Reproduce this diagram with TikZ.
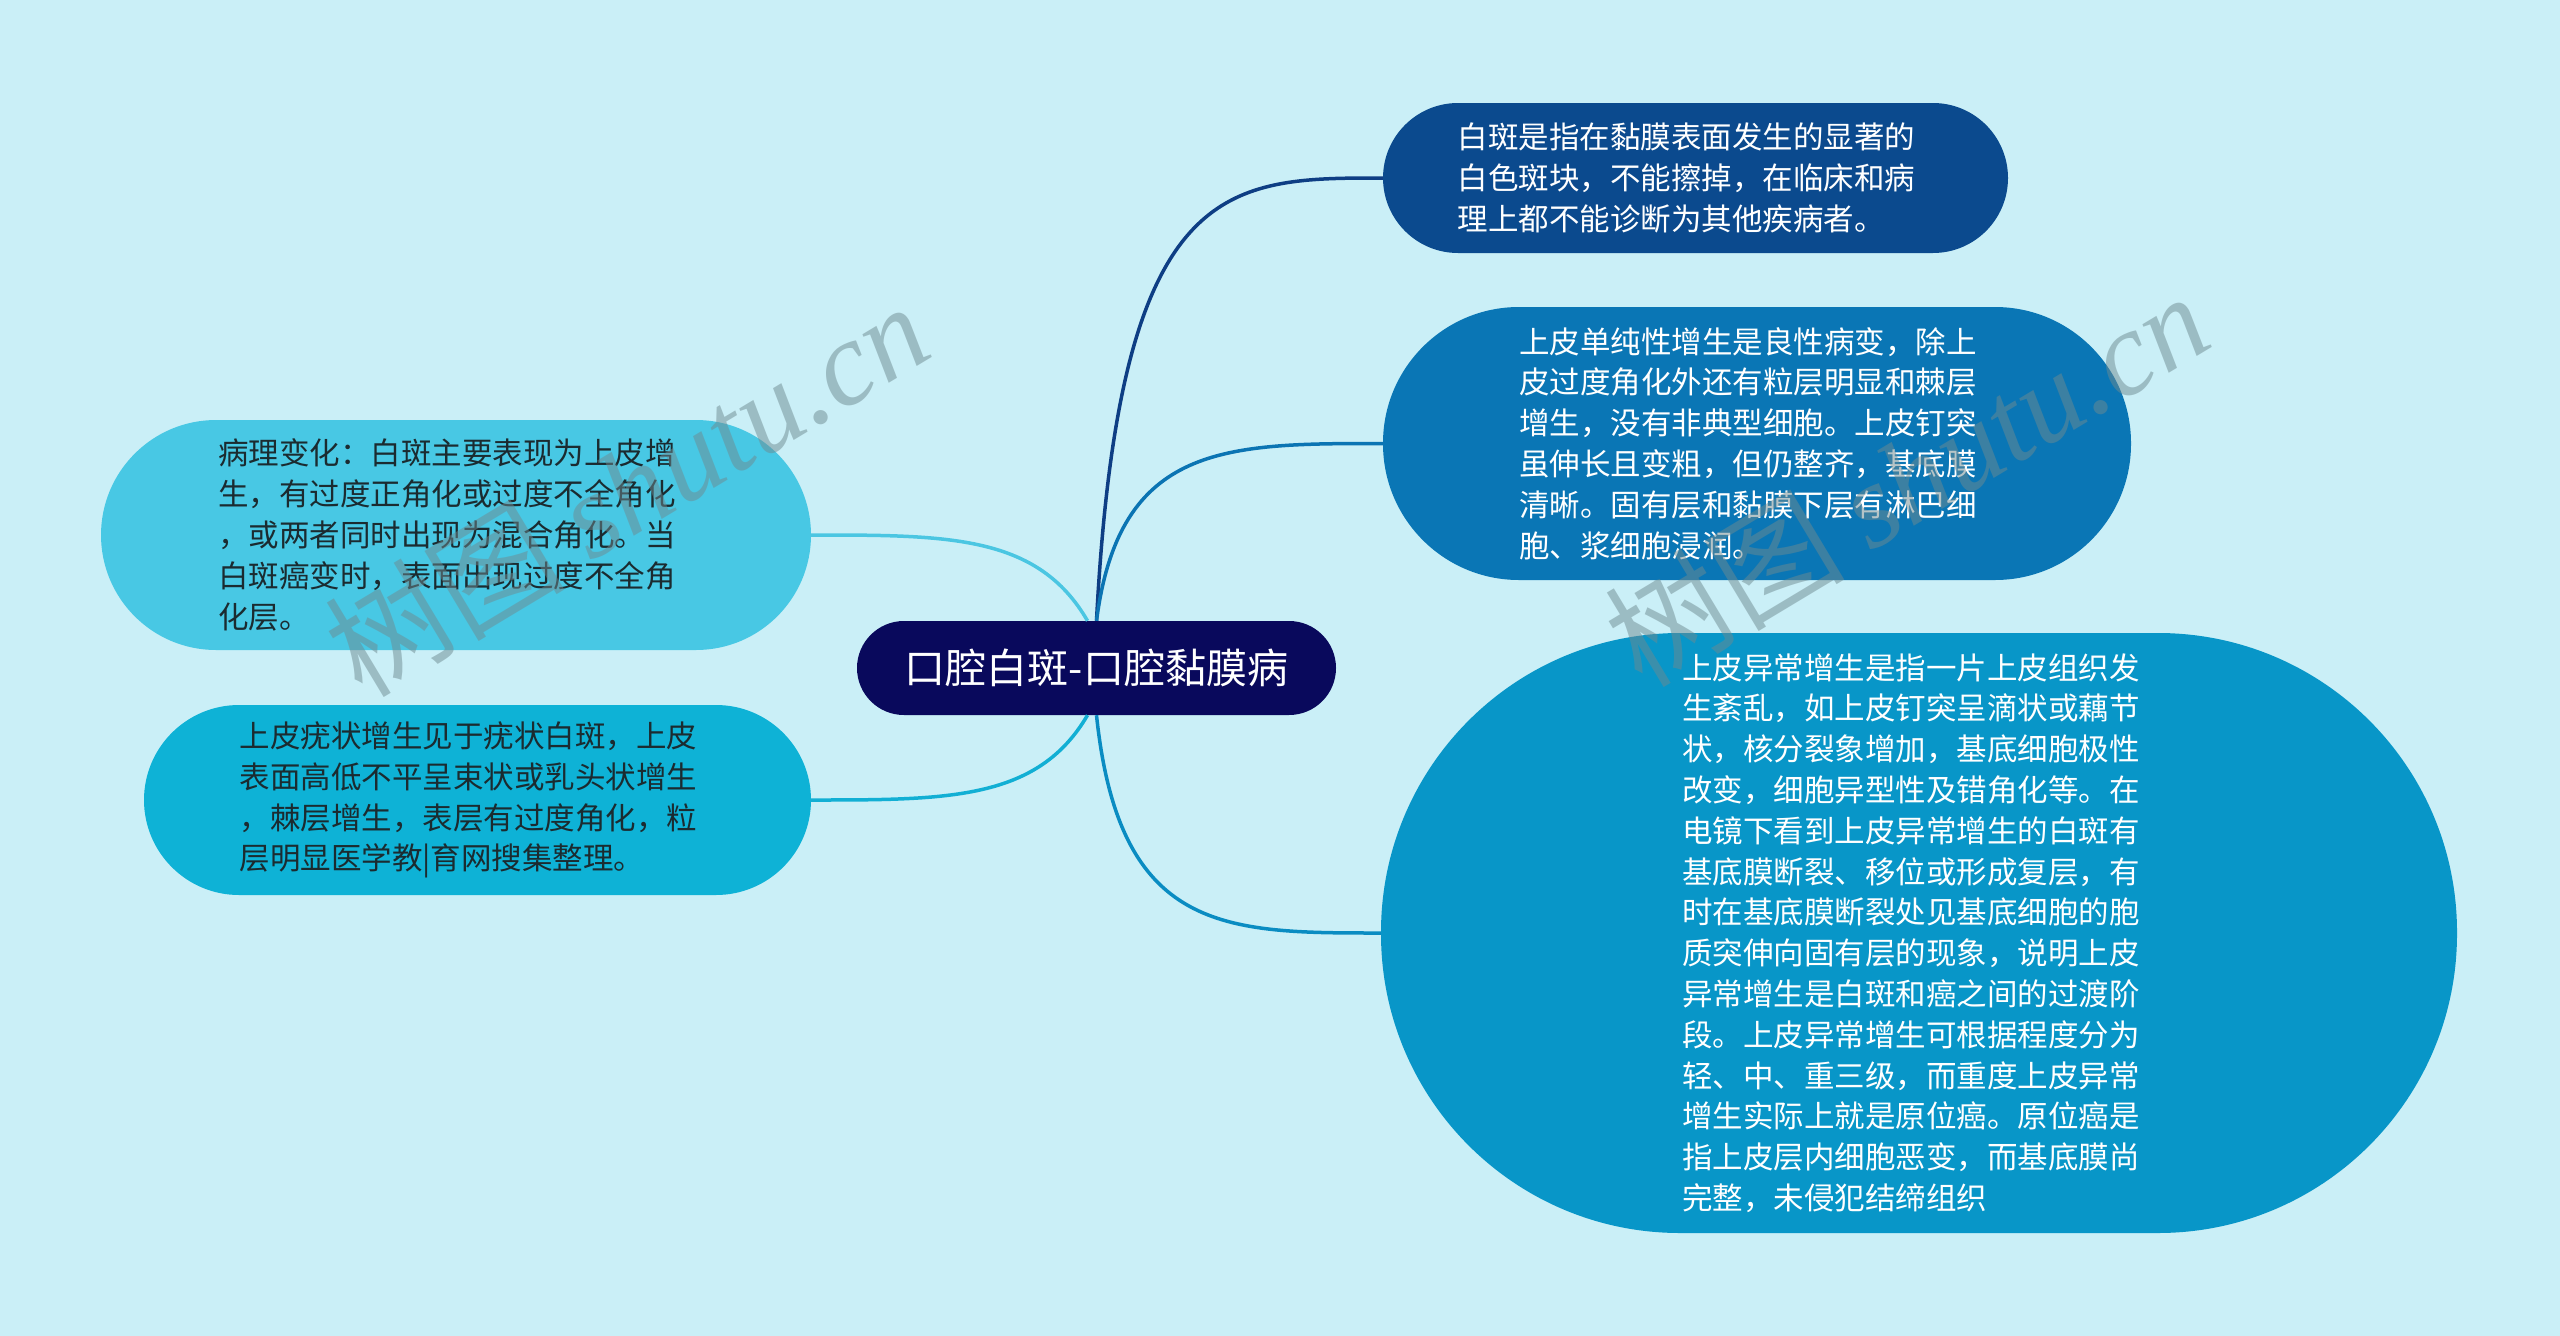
\documentclass[tikz,border=0pt]{standalone}
\usepackage{fontspec}
\setmainfont{Noto Sans CJK SC}
\newfontfamily\wmfont{Liberation Serif}
\usetikzlibrary{calc}
\definecolor{bg}{HTML}{CAEFF7}
\definecolor{cfill}{HTML}{09095C}
\definecolor{n1fill}{HTML}{0B4A8E}
\definecolor{n2fill}{HTML}{0A76B5}
\definecolor{n3fill}{HTML}{0896C8}
\definecolor{l1fill}{HTML}{48C8E4}
\definecolor{l2fill}{HTML}{0EB2D6}
\definecolor{n1line}{HTML}{0E3E84}
\definecolor{n2line}{HTML}{0B74B3}
\definecolor{n3line}{HTML}{0A8CC2}
\definecolor{l1line}{HTML}{4BC6E2}
\definecolor{l2line}{HTML}{12AFD4}
\definecolor{darktext}{HTML}{1B2B30}
\definecolor{wmcol}{HTML}{6E8A90}
\begin{document}
\begin{tikzpicture}[x=1pt,y=-1pt,
  shapebox/.style={rectangle, inner sep=0pt},
  mtext/.style={inner sep=0pt, align=left, font=\fontsize{30.5}{40.8}\selectfont},
  link/.style={line width=3.5pt},
  wmark/.style={rotate=31, anchor=base west, text=wmcol, opacity=0.5, inner sep=0pt, font=\fontsize{120}{120}\selectfont}]
\fill[bg] (0,0) rectangle (2560,1336);
\useasboundingbox (0,0) rectangle (2560,1336);

% centre
\node[shapebox, fill=cfill, text=white, align=center, minimum width=479pt, minimum height=94pt, rounded corners=47pt,
      font=\fontsize{41}{48}\selectfont] (c) at (1096.5,668) {口腔白斑-口腔黏膜病};

% right side
\node[shapebox, fill=n1fill, minimum width=625pt, minimum height=150pt, rounded corners=75pt] (n1) at (1695.5,178) {};
\node[mtext, text=white] (n1t) at ($(n1.center)+(-9,0)$)
 {白斑是指在黏膜表面发生的显著的\\白色斑块，不能擦掉，在临床和病\\理上都不能诊断为其他疾病者。};

\node[shapebox, fill=n2fill, minimum width=748pt, minimum height=273pt, rounded corners=136pt] (n2) at (1757,443.5) {};
\node[mtext, text=white] (n2t) at ($(n2.center)+(-9,0)$)
 {上皮单纯性增生是良性病变，除上\\皮过度角化外还有粒层明显和棘层\\增生，没有非典型细胞。上皮钉突\\虽伸长且变粗，但仍整齐，基底膜\\清晰。固有层和黏膜下层有淋巴细\\胞、浆细胞浸润。};

\node[shapebox, fill=n3fill, minimum width=1076pt, minimum height=600pt, rounded corners=299pt] (n3) at (1919,933) {};
\node[mtext, text=white] (n3t) at ($(n3.center)+(-8,0)$)
 {上皮异常增生是指一片上皮组织发\\生紊乱，如上皮钉突呈滴状或藕节\\状，核分裂象增加，基底细胞极性\\改变，细胞异型性及错角化等。在\\电镜下看到上皮异常增生的白斑有\\基底膜断裂、移位或形成复层，有\\时在基底膜断裂处见基底细胞的胞\\质突伸向固有层的现象，说明上皮\\异常增生是白斑和癌之间的过渡阶\\段。上皮异常增生可根据程度分为\\轻、中、重三级，而重度上皮异常\\增生实际上就是原位癌。原位癌是\\指上皮层内细胞恶变，而基底膜尚\\完整，未侵犯结缔组织};

% left side
\node[shapebox, fill=l1fill, minimum width=710pt, minimum height=230pt, rounded corners=115pt] (l1) at (456,535) {};
\node[mtext, text=darktext] (l1t) at ($(l1.center)+(-9,0)$)
 {病理变化：白斑主要表现为上皮增\\生，有过度正角化或过度不全角化\\，或两者同时出现为混合角化。当\\白斑癌变时，表面出现过度不全角\\化层。};

\node[shapebox, fill=l2fill, minimum width=667pt, minimum height=190pt, rounded corners=95pt] (l2) at (477.5,800) {};
\node[mtext, text=darktext] (l2t) at ($(l2.center)+(-9,0)$)
 {上皮疣状增生见于疣状白斑，上皮\\表面高低不平呈束状或乳头状增生\\，棘层增生，表层有过度角化，粒\\层明显医学教|育网搜集整理。};

% connector anchors
\coordinate (ctl) at ($(c.north)+(-9,0)$);
\coordinate (cbl) at ($(c.south)+(-9,0)$);
\coordinate (k1) at (c.north |- n1.west);
\coordinate (k2) at (c.north |- n2.west);
\coordinate (k3) at (c.south |- n3.west);
\coordinate (k4) at (ctl |- l1.east);
\coordinate (k5) at (cbl |- l2.east);

\draw[link, draw=n1line] (c.north) .. controls ($(k1)!0.08!(n1.west)$) and ($(k1)!0.45!(n1.west)$) .. (n1.west);
\draw[link, draw=n2line] (c.north) .. controls ($(k2)!0.08!(n2.west)$) and ($(k2)!0.45!(n2.west)$) .. (n2.west);
\draw[link, draw=n3line] (c.south) .. controls ($(k3)!0.08!(n3.west)$) and ($(k3)!0.45!(n3.west)$) .. (n3.west);
\draw[link, draw=l1line] (ctl) .. controls ($(k4)!0.18!(l1.east)$) and ($(k4)!0.5!(l1.east)$) .. (l1.east);
\draw[link, draw=l2line] (cbl) .. controls ($(k5)!0.18!(l2.east)$) and ($(k5)!0.5!(l2.east)$) .. (l2.east);

% watermarks
\node[wmark] (wm1) at (362,700) {树图 {\wmfont\itshape shutu.cn}};
\node[wmark] (wm2) at (1642,690) {树图 {\wmfont\itshape shutu.cn}};
\end{tikzpicture}
\end{document}
